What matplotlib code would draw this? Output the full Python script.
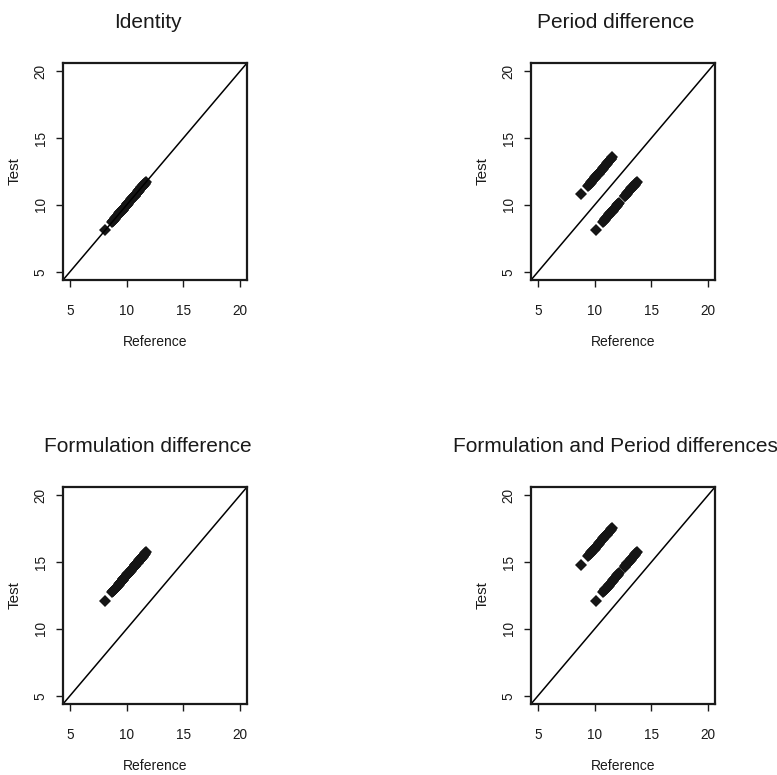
import numpy as np
import matplotlib
matplotlib.use("Agg")
import matplotlib.pyplot as plt

plt.rcParams['font.family'] = ['Liberation Sans', 'DejaVu Sans']
plt.rcParams['text.color'] = '#1a1a1a'
plt.rcParams['xtick.color'] = '#1a1a1a'
plt.rcParams['ytick.color'] = '#1a1a1a'

# subject-level base responses for the two sequences of a 2x2 crossover
seq_rt_base = [8.8, 9.45, 9.52, 9.58, 9.65, 9.72, 9.79, 9.86, 9.93, 10.0,
               10.07, 10.14, 10.21, 10.28, 10.35, 10.42, 10.49, 10.56, 10.63,
               10.7, 10.77, 10.84, 10.91, 10.98, 11.05, 11.12, 11.19, 11.26,
               11.33, 11.4, 11.47, 11.55]
seq_tr_base = [8.1, 8.75, 8.82, 8.88, 8.95, 9.02, 9.09, 9.16, 9.23, 9.3,
               9.37, 9.44, 9.51, 9.58, 9.65, 9.72, 9.79, 9.86, 9.93, 10.0,
               10.05, 10.1, 10.15, 10.65, 10.7, 10.76, 10.82, 10.89, 10.96,
               11.03, 11.1, 11.17, 11.24, 11.31, 11.38, 11.45, 11.52, 11.59,
               11.66, 11.73]

titles = ["Identity", "Period difference",
          "Formulation difference", "Formulation and Period differences"]
formulation_effect = [0, 0, 4, 4]
period_effect = [0, 2, 0, 2]
ticks = [5, 10, 15, 20]
lims = (4.4, 20.6)

fig = plt.figure(figsize=(7.77, 7.75), dpi=100)
W, H = 777, 775
boxes = [(63, 63), (531, 63), (63, 487), (531, 487)]  # left, top in pixels
bw, bh = 184, 217

rt = np.array(seq_rt_base)
tr = np.array(seq_tr_base)

for i, (left, top) in enumerate(boxes):
    ax = fig.add_axes([left / W, 1 - (top + bh) / H, bw / W, bh / H])
    f, p = formulation_effect[i], period_effect[i]
    # RT: reference in period 1, test in period 2; TR the other way round
    ref = np.concatenate([rt, tr + p])
    test = np.concatenate([rt + f + p, tr + f])
    ax.plot(ref, test, linestyle='none', marker='D', markersize=5.8,
            color='#151515', markeredgewidth=0)
    ax.plot(lims, lims, color='black', lw=1.1)
    ax.set_xlim(lims)
    ax.set_ylim(lims)
    ax.set_xticks(ticks)
    ax.set_yticks(ticks)
    for s in ax.spines.values():
        s.set_linewidth(1.6)
        s.set_color('#1a1a1a')
    ax.tick_params(axis='x', length=5, width=1, pad=12, labelsize=9.8)
    ax.tick_params(axis='y', length=5, width=1, pad=6, labelsize=9.8,
                   labelrotation=90)
    for lab in ax.get_yticklabels():
        lab.set_va('center')
    ax.text(0.5, -62 / bh, "Reference", transform=ax.transAxes,
            ha='center', va='center', fontsize=10)
    ax.text(-48 / bw, 0.5, "Test", transform=ax.transAxes, rotation=90,
            ha='center', va='center', fontsize=11)
    ax.text(0.46, 1 + 40 / bh, titles[i], transform=ax.transAxes,
            ha='center', va='center', fontsize=15)

fig.savefig("out.png", dpi=100)
